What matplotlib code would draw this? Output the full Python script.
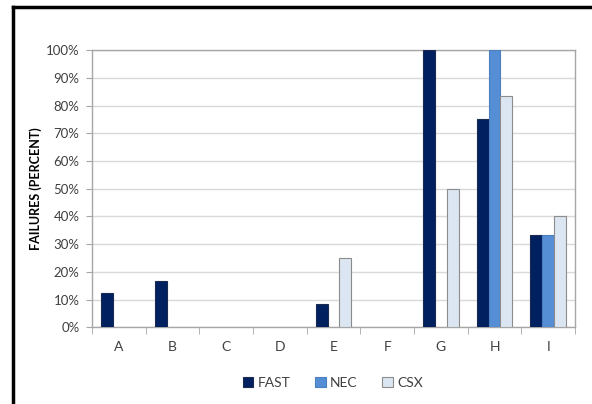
import matplotlib.pyplot as plt
from matplotlib.lines import Line2D
from matplotlib.ticker import PercentFormatter, MultipleLocator
import numpy as np

plt.rcParams['font.family'] = ['Lato', 'DejaVu Sans']

# Failure rates (percent) per site
sites = ['A', 'B', 'C', 'D', 'E', 'F', 'G', 'H', 'I']
fast = [12.5, 16.7, 0, 0, 8.3, 0, 100, 75, 33.3]
nec = [0, 0, 0, 0, 0, 0, 0, 100, 33.3]
csx = [0, 0, 0, 0, 25, 0, 50, 83.3, 40]

series = [('FAST', fast, '#002060', '#1a2a50'),
          ('NEC', nec, '#558ed5', '#4a7fc0'),
          ('CSX', csx, '#dce6f2', '#8c8c8c')]

fig = plt.figure(figsize=(5.92, 4.04), dpi=100)
ax = fig.add_axes([0.1554, 0.1894, 0.8159, 0.6868])

x = np.arange(len(sites))
w = 0.223
for i, (name, vals, fc, ec) in enumerate(series):
    vals = np.array(vals)
    mask = vals > 0
    ax.bar(x[mask] + (i - 1) * w, vals[mask], width=w, color=fc,
           edgecolor=ec, linewidth=0.8, zorder=3, label=name)

ax.set_xlim(-0.5, len(sites) - 0.5)
ax.set_ylim(0, 100)
ax.yaxis.set_major_locator(MultipleLocator(10))
ax.yaxis.set_major_formatter(PercentFormatter(decimals=0))
ax.grid(axis='y', color='#d9d9d9', linewidth=1, zorder=0)

ax.set_xticks(x)
ax.set_xticklabels(sites)
ax.set_xticks(np.arange(-0.5, len(sites)), minor=True)
ax.tick_params(axis='x', which='major', length=0, pad=10, labelsize=10, labelcolor='#404040')
ax.tick_params(axis='x', which='minor', length=5, color='#a6a6a6')
ax.tick_params(axis='y', length=4, color='#a6a6a6', labelsize=9.5, labelcolor='#404040', pad=5)

for s in ax.spines.values():
    s.set_color('#a6a6a6')
    s.set_linewidth(1)

ax.set_ylabel('FAILURES (PERCENT)', fontsize=9, fontweight='bold', labelpad=3)

handles = [plt.Rectangle((0, 0), 1, 1, facecolor=fc, edgecolor=ec, linewidth=0.8)
           for _, _, fc, ec in series]
fig.legend(handles, [s[0] for s in series], loc='center', bbox_to_anchor=(0.562, 0.052),
           ncol=3, frameon=False, fontsize=10, handlelength=0.75, handleheight=0.75,
           handletextpad=0.3, columnspacing=1.8, labelcolor='#404040')

# outer frame on left and top
fig.add_artist(Line2D([0.022, 0.022], [0, 0.983], color='black', linewidth=2.5,
                      transform=fig.transFigure))
fig.add_artist(Line2D([0.022, 1.0], [0.983, 0.983], color='black', linewidth=2.5,
                      transform=fig.transFigure))

fig.savefig('out.png', dpi=100)
